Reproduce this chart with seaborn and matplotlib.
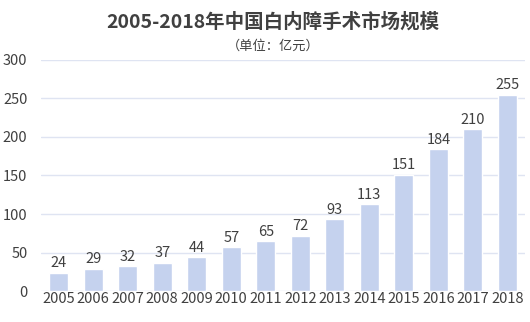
import matplotlib
matplotlib.use("Agg")
import matplotlib.pyplot as plt
import seaborn as sns
import pandas as pd

years = ["2005", "2006", "2007", "2008", "2009", "2010", "2011",
         "2012", "2013", "2014", "2015", "2016", "2017", "2018"]
values = [24, 29, 32, 37, 44, 57, 65, 72, 93, 113, 151, 184, 210, 255]
yticks = [0, 50, 100, 150, 200, 250, 300]

sns.set_theme(style="white")
plt.rcParams['font.family'] = ['Noto Sans CJK SC', 'DejaVu Sans']

df = pd.DataFrame({"year": years, "value": values})
fig = plt.figure(figsize=(5.3, 3.22), dpi=100)
ax = fig.add_axes([0.078, 0.096, 0.912, 0.718])

sns.barplot(data=df, x="year", y="value", color="#c5d2ee", saturation=1,
            width=0.55, ax=ax, zorder=3)
txt = "#404040"
for i, v in enumerate(values):
    ax.text(i, v + 3, str(v), ha="center", va="bottom", fontsize=10.5, color=txt)

ax.set_ylim(0, 300)
ax.set_yticks(yticks)
ax.yaxis.grid(True, color="#dfe4f2", linewidth=1, zorder=0)
ax.set_axisbelow(True)
for s in ax.spines.values():
    s.set_visible(False)
ax.tick_params(axis="both", length=0, labelsize=10.5, labelcolor=txt, pad=1)
ax.tick_params(axis="y", pad=10)
ax.set_xlabel("")
ax.set_ylabel("")

fig.text(273/530, 1 - 22/322, "2005-2018年中国白内障手术市场规模", ha="center", va="center",
         fontsize=14, fontweight="bold", color=txt)
fig.text(273/530, 1 - 46/322, "（单位：亿元）", ha="center", va="center",
         fontsize=9.5, color=txt)

fig.savefig("out.png", dpi=100)
